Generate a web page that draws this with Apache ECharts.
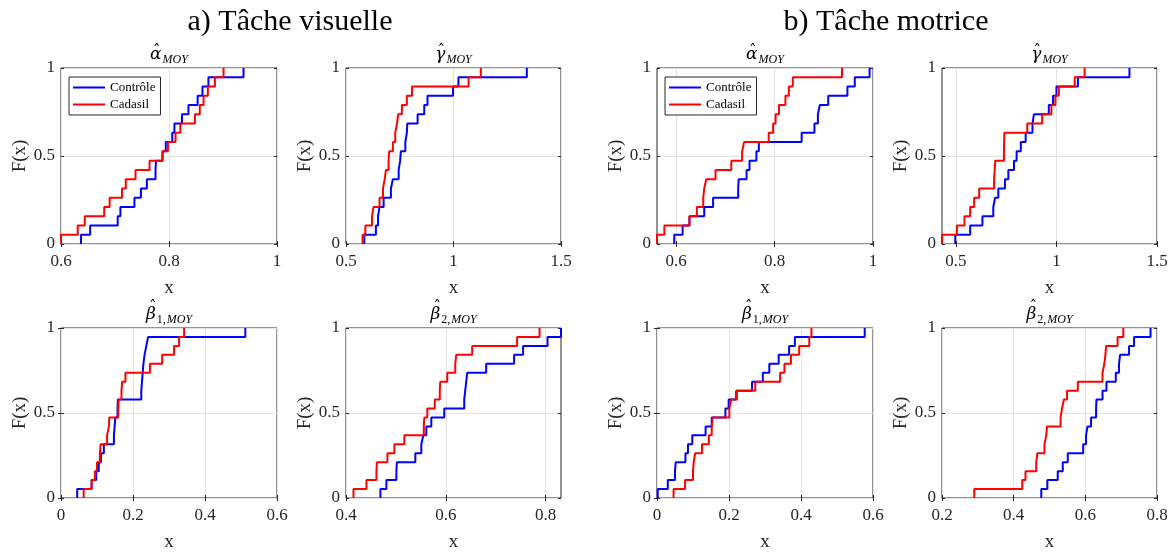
<!DOCTYPE html>
<html><head><meta charset="utf-8">
<script src="https://cdn.jsdelivr.net/npm/echarts@6/dist/echarts.min.js"></script>
<style>html,body{margin:0;padding:0;background:#fff}#c{width:1175px;height:553px}</style>
</head><body><div id="c"></div>
<script>
// ---- data: sorted sample values per group (n = 19 each) ----
const visAlphaControle = [0.637,0.654,0.705,0.710,0.736,0.748,0.759,0.775,0.776,0.788,0.794,0.806,0.810,0.824,0.836,0.853,0.862,0.873,0.938];
const visAlphaCadasil  = [0.600,0.631,0.644,0.680,0.690,0.713,0.720,0.738,0.764,0.788,0.798,0.812,0.821,0.848,0.857,0.864,0.872,0.885,0.901];
const visGammaControle = [0.585,0.639,0.649,0.656,0.675,0.709,0.718,0.745,0.752,0.755,0.776,0.783,0.785,0.833,0.864,0.879,0.998,1.023,1.341];
const visGammaCadasil  = [0.577,0.590,0.621,0.628,0.656,0.672,0.680,0.686,0.698,0.701,0.718,0.729,0.737,0.743,0.760,0.783,0.807,1.070,1.127];
const motAlphaControle = [0.596,0.613,0.627,0.657,0.675,0.726,0.727,0.743,0.749,0.763,0.768,0.855,0.881,0.888,0.892,0.909,0.948,0.963,0.993];
const motAlphaCadasil  = [0.561,0.576,0.627,0.642,0.655,0.657,0.661,0.680,0.712,0.734,0.738,0.788,0.797,0.802,0.809,0.822,0.829,0.837,0.937];
const motGammaControle = [0.497,0.571,0.632,0.686,0.695,0.711,0.744,0.761,0.789,0.802,0.823,0.847,0.881,0.888,0.962,0.983,1.000,1.107,1.363];
const motGammaCadasil  = [0.431,0.505,0.543,0.571,0.591,0.616,0.690,0.693,0.696,0.739,0.740,0.741,0.855,0.929,0.975,0.995,1.012,1.091,1.140];
const visBeta1Controle = [0.045,0.085,0.098,0.105,0.111,0.119,0.147,0.149,0.151,0.157,0.158,0.223,0.225,0.227,0.229,0.232,0.237,0.242,0.512];
const visBeta1Cadasil  = [0.063,0.085,0.094,0.100,0.108,0.110,0.128,0.133,0.134,0.159,0.160,0.168,0.170,0.179,0.247,0.281,0.314,0.328,0.342];
const visBeta2Controle = [0.469,0.481,0.501,0.502,0.539,0.551,0.555,0.561,0.571,0.597,0.637,0.639,0.641,0.643,0.681,0.737,0.755,0.804,0.831];
const visBeta2Cadasil  = [0.415,0.441,0.461,0.462,0.483,0.497,0.517,0.556,0.557,0.563,0.578,0.588,0.589,0.603,0.619,0.621,0.653,0.743,0.788];
const motBeta1Controle = [0.002,0.030,0.050,0.052,0.079,0.086,0.098,0.135,0.152,0.190,0.199,0.220,0.264,0.294,0.312,0.338,0.367,0.383,0.577];
const motBeta1Cadasil  = [0.046,0.078,0.100,0.102,0.106,0.125,0.144,0.152,0.155,0.201,0.206,0.222,0.273,0.342,0.354,0.372,0.395,0.423,0.429];
const motBeta2Controle = [0.477,0.494,0.523,0.537,0.551,0.594,0.602,0.606,0.616,0.630,0.631,0.648,0.659,0.685,0.694,0.697,0.722,0.736,0.782];
const motBeta2Cadasil  = [0.290,0.424,0.433,0.463,0.466,0.486,0.491,0.493,0.531,0.535,0.540,0.549,0.579,0.648,0.653,0.656,0.658,0.690,0.706];

// axis limits and tick labels
const visAlphaRange = [0.6, 1.0],   visAlphaTicks = [0.6, 0.8, 1];
const visGammaRange = [0.5, 1.5],   visGammaTicks = [0.5, 1, 1.5];
const motAlphaRange = [0.561, 1.0], motAlphaTicks = [0.6, 0.8, 1];
const motGammaRange = [0.431, 1.5], motGammaTicks = [0.5, 1, 1.5];
const visBeta1Range = [0, 0.6],     visBeta1Ticks = [0, 0.2, 0.4, 0.6];
const visBeta2Range = [0.4, 0.831], visBeta2Ticks = [0.4, 0.6, 0.8];
const motBeta1Range = [0, 0.6],     motBeta1Ticks = [0, 0.2, 0.4, 0.6];
const motBeta2Range = [0.2, 0.8],   motBeta2Ticks = [0.2, 0.4, 0.6, 0.8];
const seriesNames = ['Contrôle', 'Cadasil'];
const mainTitles = ['a) Tâche visuelle', 'b) Tâche motrice'];

// panel titles: [greek letter (with hat), upright subscript part, italic subscript part]
const panels = [
  {g:'α', n:'', s:'MOY', c:visAlphaControle, d:visAlphaCadasil, r:visAlphaRange, k:visAlphaTicks, legend:true},
  {g:'γ', n:'', s:'MOY', c:visGammaControle, d:visGammaCadasil, r:visGammaRange, k:visGammaTicks},
  {g:'α', n:'', s:'MOY', c:motAlphaControle, d:motAlphaCadasil, r:motAlphaRange, k:motAlphaTicks, legend:true},
  {g:'γ', n:'', s:'MOY', c:motGammaControle, d:motGammaCadasil, r:motGammaRange, k:motGammaTicks},
  {g:'β', n:'1,', s:'MOY', c:visBeta1Controle, d:visBeta1Cadasil, r:visBeta1Range, k:visBeta1Ticks},
  {g:'β', n:'2,', s:'MOY', c:visBeta2Controle, d:visBeta2Cadasil, r:visBeta2Range, k:visBeta2Ticks},
  {g:'β', n:'1,', s:'MOY', c:motBeta1Controle, d:motBeta1Cadasil, r:motBeta1Range, k:motBeta1Ticks},
  {g:'β', n:'2,', s:'MOY', c:motBeta2Controle, d:motBeta2Cadasil, r:motBeta2Range, k:motBeta2Ticks}
];

function ecdf(arr){
  const s = arr.slice().sort((a,b)=>a-b), n = s.length;
  const pts = [[s[0], 0]];
  s.forEach((v,i)=>pts.push([v, (i+1)/n]));
  return pts;
}

const FONT = 'Liberation Serif';
const GFONT = 'DejaVu Serif';
const AX = '#262626';
const lefts = [61, 346, 657, 942], widths = [216, 215, 216, 215];
const tops = [68, 328], H = 176;

const ctx = document.createElement('canvas').getContext('2d');
function tw(text, font){ ctx.font = font; return ctx.measureText(text).width; }

const grid = [], xAxis = [], yAxis = [], series = [], graphic = [], legend = [];
const rich = {
  g:{fontFamily:GFONT, fontStyle:'italic', fontSize:17, color:'#000'},
  n:{fontFamily:FONT, fontSize:12, color:'#000', padding:[10,0,0,1]},
  s:{fontFamily:FONT, fontStyle:'italic', fontSize:12, color:'#000', padding:[10,0,0,1]}
};

panels.forEach((p, i) => {
  const col = i % 4, row = Math.floor(i / 4);
  grid.push({left: lefts[col], top: tops[row], width: widths[col], height: H,
    show: true, borderColor: AX, borderWidth: 1, backgroundColor: '#fff'});
  const tick = {show:true, inside:true, length:3, lineStyle:{color:AX, width:1}, customValues:p.k};
  xAxis.push({type:'value', gridIndex:i, min:p.r[0], max:p.r[1], position:'bottom',
    axisLine:{show:false}, axisTick:tick,
    axisLabel:{customValues:p.k, fontFamily:FONT, fontSize:17, color:AX, margin:9},
    splitLine:{show:true, lineStyle:{color:'#e3e3e3', width:1}},
    name:'x', nameLocation:'middle', nameGap:35,
    nameTextStyle:{fontFamily:FONT, fontSize:19, color:AX}});
  xAxis.push({type:'value', gridIndex:i, min:p.r[0], max:p.r[1], position:'top',
    axisLine:{show:false}, axisTick:tick, axisLabel:{show:false, customValues:p.k}, splitLine:{show:false}});
  const ytick = {show:true, inside:true, length:3, lineStyle:{color:AX, width:1}};
  yAxis.push({type:'value', gridIndex:i, min:0, max:1, interval:0.5, position:'left',
    axisLine:{show:false}, axisTick:ytick,
    axisLabel:{fontFamily:FONT, fontSize:17, color:AX, margin:6},
    splitLine:{show:true, lineStyle:{color:'#e3e3e3', width:1}},
    name:'F(x)', nameLocation:'middle', nameGap:30,
    nameTextStyle:{fontFamily:FONT, fontSize:19, color:AX}});
  yAxis.push({type:'value', gridIndex:i, min:0, max:1, interval:0.5, position:'right',
    axisLine:{show:false}, axisTick:ytick, axisLabel:{show:false}, splitLine:{show:false}});
  series.push({name:seriesNames[0], type:'line', xAxisIndex:2*i, yAxisIndex:2*i, step:'end',
    data:ecdf(p.c), symbol:'none', lineStyle:{color:'#0000ff', width:2}, itemStyle:{color:'#0000ff'}, z:3});
  series.push({name:seriesNames[1], type:'line', xAxisIndex:2*i, yAxisIndex:2*i, step:'end',
    data:ecdf(p.d), symbol:'none', lineStyle:{color:'#ff0000', width:2}, itemStyle:{color:'#ff0000'}, z:4});

  // panel title: greek letter + subscript, with a hat placed above the letter
  const cx = lefts[col] + widths[col]/2, cy = tops[row] - 13;
  const txt = '{g|' + p.g + '}' + (p.n ? '{n|' + p.n + '}' : '') + '{s|' + p.s + '}';
  graphic.push({type:'text', x: cx, y: cy,
    style:{text:txt, rich:rich, textAlign:'center', textVerticalAlign:'middle'}});
  const wg = tw(p.g, 'italic 17px "' + GFONT + '"');
  const wn = p.n ? tw(p.n, '12px "' + FONT + '"') + 1 : 0;
  const ws = tw(p.s, 'italic 12px "' + FONT + '"') + 1;
  const x0 = cx - (wg + wn + ws) / 2;
  const tall = p.g === 'β';
  graphic.push({type:'text', x: x0 + wg/2 + (tall ? 2 : 1), y: cy + (tall ? -8 : -4),
    style:{text:'ˆ', fontFamily:GFONT, fontSize:15, fill:'#000', textAlign:'center', textVerticalAlign:'middle'}});

  if (p.legend) {
    legend.push({left: lefts[col] + 8, top: tops[row] + 9, orient:'vertical',
      data: seriesNames, icon:'rect', backgroundColor:'#fff', borderColor:AX, borderWidth:1,
      padding:[4,5,4,4], itemGap:4, itemWidth:32, itemHeight:2,
      textStyle:{fontFamily:FONT, fontSize:13, color:'#000', padding:[0,0,0,0]}});
  }
});
graphic.push({type:'text', x:290, y:22, style:{text:mainTitles[0], fontFamily:FONT, fontSize:30, fill:'#000', textAlign:'center', textVerticalAlign:'middle'}});
graphic.push({type:'text', x:886, y:22, style:{text:mainTitles[1], fontFamily:FONT, fontSize:30, fill:'#000', textAlign:'center', textVerticalAlign:'middle'}});

const chart = echarts.init(document.getElementById('c'));
chart.setOption({animation:false, backgroundColor:'#fff', grid, xAxis, yAxis, series, legend, graphic});
</script></body></html>
